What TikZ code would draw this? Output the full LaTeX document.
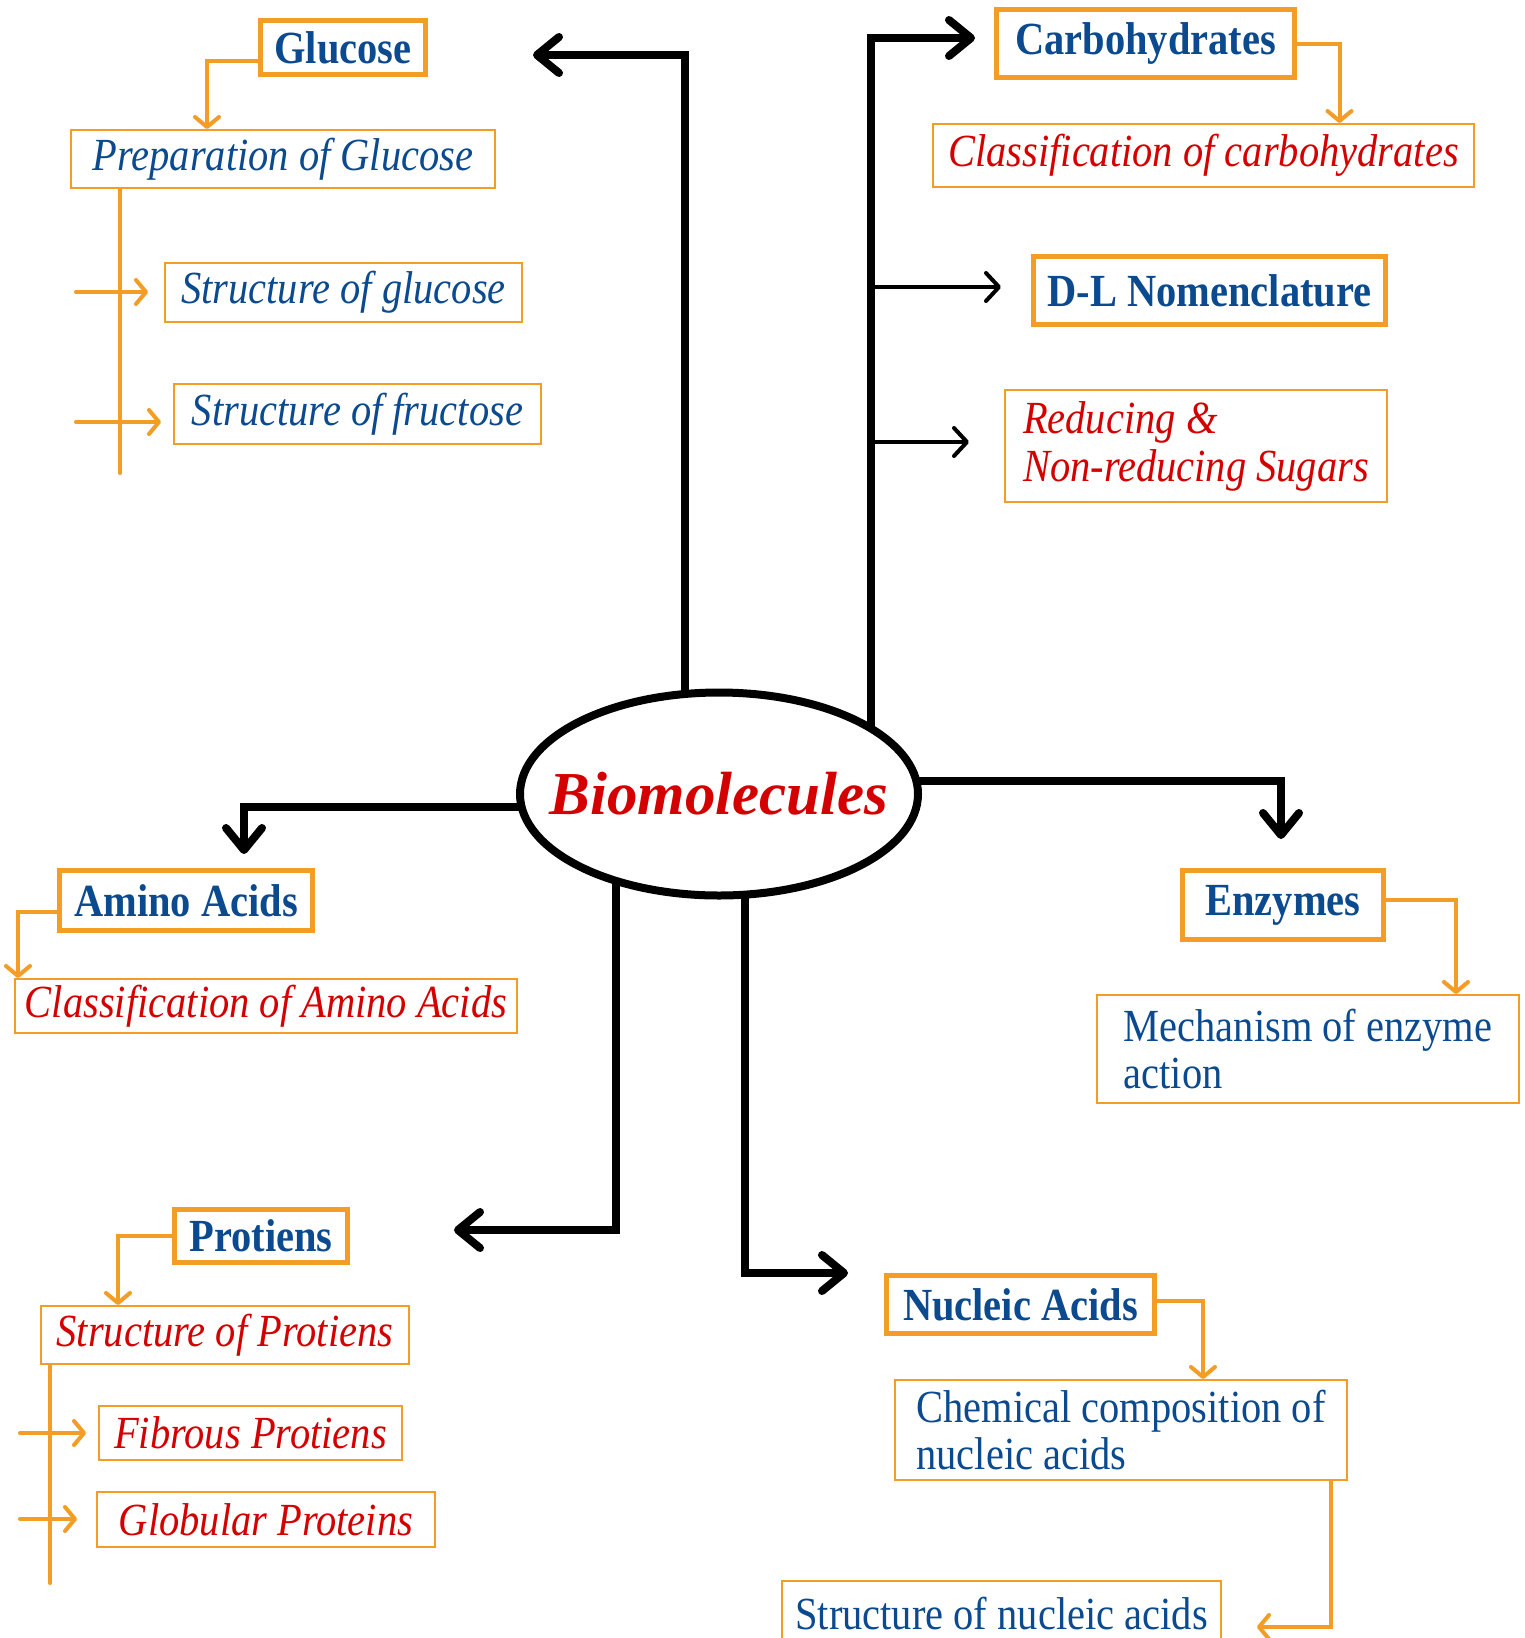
\documentclass[tikz,border=0pt]{standalone}
\usepackage{fontspec}
\setmainfont{Liberation Serif}
\newfontfamily\narrowserif[FakeStretch=0.88]{Liberation Serif}
\usepackage{xcolor}
\usepackage{tikz}
\usetikzlibrary{positioning, shapes.geometric, arrows.meta, backgrounds}

\definecolor{bmorange}{HTML}{F39C26}
\definecolor{bmblue}{HTML}{0B4A8E}
\definecolor{bmred}{HTML}{D40000}

\begin{document}
\begin{tikzpicture}[x=1pt,y=-1pt]
					\tikzstyle{topic}=[rectangle,draw=bmorange,line width=5pt,inner sep=0pt,text=bmblue,font=\narrowserif\fontsize{46}{48}\selectfont\bfseries]
					\tikzstyle{subtopic}=[rectangle,draw=bmorange,line width=2pt,inner sep=0pt,font=\narrowserif\fontsize{46}{48}\selectfont\itshape]
					\tikzstyle{plain}=[rectangle,draw=bmorange,line width=2pt,inner sep=0pt,text=bmblue,align=left,font=\narrowserif\fontsize{46}{47}\selectfont]
					\tikzstyle{hub}=[ellipse,draw=black,fill=white,line width=8pt,inner sep=0pt]
					\tikzstyle{hubtext}=[inner sep=0pt,text=bmred,font=\fontsize{61}{61}\selectfont\bfseries\itshape]
					\tikzstyle{mainarrow}=[draw=black,line width=8pt,-{Straight Barb[length=22pt,width=36pt,round]}]
					\tikzstyle{branch}=[draw=black,line width=4pt,-{Straight Barb[length=13pt,width=28pt,round]}]
					\tikzstyle{subarrow}=[draw=bmorange,line width=4pt,line cap=round,-{Straight Barb[length=10pt,width=24pt,round]}]
					\tikzstyle{subline}=[draw=bmorange,line width=4pt,line cap=round]
					\useasboundingbox (0,0) rectangle (1525,1638);
					\node[hub,minimum width=398pt,minimum height=203pt](bio) at (719,794) {};
					\node[hubtext](bio-label) at (bio) {Biomolecules};
					\node[topic,minimum width=165pt,minimum height=54pt](glu) at (343,47.5) {Glucose};
					\node[subtopic,text=bmblue,minimum width=424pt,minimum height=58pt](prep) at (283,159) {Preparation of Glucose};
					\node[subtopic,text=bmblue,minimum width=357pt,minimum height=59pt](sglu) at (343.5,292.5) {Structure of glucose};
					\node[subtopic,text=bmblue,minimum width=367pt,minimum height=60pt](sfru) at (357.5,414) {Structure of fructose};
					\node[topic,minimum width=298pt,minimum height=68pt](carb) at (1145.5,43.5) {Carbohydrates};
					\node[subtopic,text=bmred,minimum width=541pt,minimum height=63pt](ccarb) at (1203.5,155.5) {Classification of carbohydrates};
					\node[topic,minimum width=352pt,minimum height=68pt](dl) at (1209.5,290.5) {D-L Nomenclature};
					\node[subtopic,text=bmred,align=left,minimum width=382pt,minimum height=112pt](red) at (1196,446) {Reducing \&\\Non-reducing Sugars};
					\node[topic,minimum width=253pt,minimum height=60pt](amino) at (186,900.5) {Amino Acids};
					\node[subtopic,text=bmred,minimum width=502pt,minimum height=54pt](camino) at (266,1006) {Classification of Amino Acids};
					\node[topic,minimum width=201pt,minimum height=69pt](enz) at (1283,905) {Enzymes};
					\node[plain,minimum width=422pt,minimum height=108pt](mech) at (1308,1049) {Mechanism of enzyme\\action};
					\node[topic,minimum width=173pt,minimum height=53pt](prot) at (261,1236) {Protiens};
					\node[subtopic,text=bmred,minimum width=368pt,minimum height=58pt](sprot) at (225,1335) {Structure of Protiens};
					\node[subtopic,text=bmred,minimum width=303pt,minimum height=54pt](fib) at (250.5,1433) {Fibrous Protiens};
					\node[subtopic,text=bmred,minimum width=338pt,minimum height=55pt](glob) at (266,1519.5) {Globular Proteins};
					\node[topic,minimum width=268pt,minimum height=58pt](nuc) at (1020.5,1304.5) {Nucleic Acids};
					\node[plain,minimum width=452pt,minimum height=100pt](chem) at (1121,1430) {Chemical composition of\\nucleic acids};
					\node[plain,minimum width=439pt,minimum height=66pt](snuc) at (1001.5,1614) {Structure of nucleic acids};
					\coordinate (glu-tip) at (533,55);
					\coordinate (trunk) at (871,38);
					\coordinate (carb-tip) at (975,38);
					\coordinate (dl-tip) at (1001,287);
					\coordinate (red-tip) at (969,442);
					\coordinate (enz-tip) at (1281,839);
					\coordinate (amino-tip) at (244,854);
					\coordinate (prot-tip) at (454,1230);
					\coordinate (nuc-tip) at (848,1273);
					\coordinate (prep-end) at (120,473);
					\coordinate (sglu-in) at (76,292);
					\coordinate (sfru-in) at (76,422);
					\coordinate (sprot-end) at (50,1583);
					\coordinate (fib-in) at (20,1433);
					\coordinate (glob-in) at (20,1519);
					\coordinate (snuc-tip) at (1257,1627);
					\begin{scope}[on background layer]
						\draw[mainarrow] ([xshift=-34pt]bio.center) |- (glu-tip);
						\draw[mainarrow] ([xshift=152pt]bio.center) -- (trunk) -- (carb-tip);
						\draw[mainarrow] ([yshift=13pt]bio.center) -| (enz-tip);
						\draw[mainarrow] ([yshift=-13pt]bio.center) -| (amino-tip);
						\draw[mainarrow] ([xshift=-103pt]bio.center) |- (prot-tip);
						\draw[mainarrow] ([xshift=26pt]bio.center) |- (nuc-tip);
					\end{scope}
					\draw[branch] (trunk |- dl-tip) -- (dl-tip);
					\draw[branch] (trunk |- red-tip) -- (red-tip);
					\draw[subarrow] ([yshift=-13pt]glu.west) -| ([xshift=-76pt]prep.north);
					\draw[subline] ([xshift=-163pt]prep.south) -- (prep-end);
					\draw[subarrow,shorten >=16pt] (sglu-in) -- (sglu-in -| sglu.west);
					\draw[subarrow,shorten >=12pt] (sfru-in) -- (sfru-in -| sfru.west);
					\draw[subarrow] (carb.east) -| ([xshift=136pt]ccarb.north);
					\draw[subarrow] ([yshift=-11pt]amino.west) -| ([xshift=-248pt]camino.north);
					\draw[subarrow] ([yshift=5pt]enz.east) -| ([xshift=148pt]mech.north);
					\draw[subarrow] (prot.west) -| ([xshift=-107pt]sprot.north);
					\draw[subline] ([xshift=-175pt]sprot.south) -- (sprot-end);
					\draw[subarrow,shorten >=12pt] (fib-in) -- (fib-in -| fib.west);
					\draw[subarrow,shorten >=19pt] (glob-in) -- (glob-in -| glob.west);
					\draw[subarrow] ([yshift=4pt]nuc.east) -| ([xshift=82pt]chem.north);
					\draw[subarrow] ([xshift=210pt]chem.south) |- (snuc-tip);
				\end{tikzpicture}
\end{document}
